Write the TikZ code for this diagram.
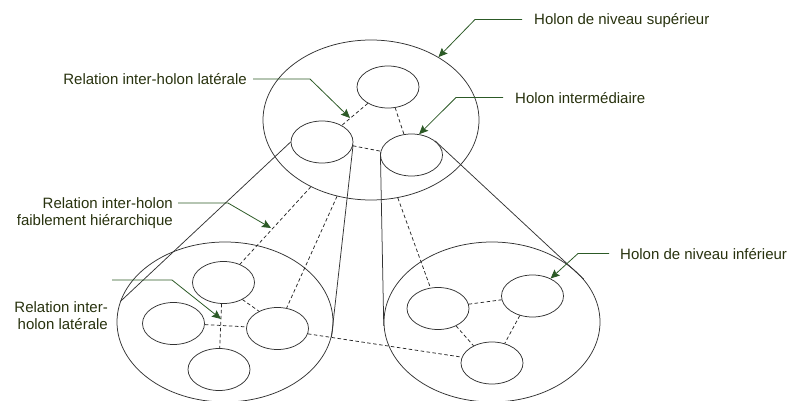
\documentclass[tikz,border=0pt]{standalone}
\usepackage{fontspec}
\setmainfont{Liberation Sans}
\usetikzlibrary{positioning,arrows.meta,shapes.geometric}
\definecolor{notegreen}{HTML}{2C5A26}
\definecolor{notetext}{HTML}{28320E}

\begin{document}
\begin{tikzpicture}[
  x=1pt, y=-1pt,
  font=\fontsize{15}{17.5}\selectfont,
  holon/.style={ellipse, draw=black!80, line width=0.75pt, inner sep=0pt},
  big/.style={holon, minimum width=216pt, minimum height=160pt},
  small/.style={holon, minimum width=62pt, minimum height=42pt},
  rel/.style={draw=black!85, line width=0.75pt, dash pattern=on 3.5pt off 2.5pt},
  cone/.style={draw=black!80, line width=0.75pt},
  note/.style={draw=notegreen, line width=0.8pt,
               -{Stealth[length=9pt, width=8pt, inset=1.5pt]}},
  lbl/.style={text=notetext, inner sep=0pt},
  lbl1/.style={lbl, text height=11pt, text depth=0pt}
]
\useasboundingbox (0,0) rectangle (789,401);

% upper level holon
\node[big] (up) at (371,120) {};
\node[small] (ut) at (388,87) {};
\node[small] (ul) at (322,142) {};
\node[small] (ur) at (411.5,155) {};
\draw[rel] (ut.219) -- (ul.40);
\draw[rel] (ut.289) -- (ur.110);
\draw[rel] (ul.353) -- (ur.173);

% left lower holon
\node[big] (lb) at (225,322) {};
\node[small] (lt) at (223.5,282.5) {};
\node[small] (ll) at (173.5,323.5) {};
\node[small] (lr) at (277.5,328.5) {};
\node[small] (lbt) at (219,369.5) {};
\draw[rel] (lt.265) -- (lbt.88);
\draw[rel] (ll.358) -- (lr.177);
\draw[rel] (lt.318) -- (lr.137);

% right lower holon
\node[big] (rb) at (492,322) {};
\node[small] (rl) at (438,308.5) {};
\node[small] (rr) at (532.5,296) {};
\node[small] (rbt) at (492,363) {};
\draw[rel] (rl.8) -- (rr.187);
\draw[rel] (rl.316) -- (rbt.137);
\draw[rel] (rr.237) -- (rbt.57);

% zoom cones
\draw[cone] (ul.180) -- (lb.169);
\draw[cone] (ul.355) -- (lb.352);
\draw[cone] (ur.175) -- (rb.182);
\draw[cone] (ur.31) -- (rb.25);

% links between levels
\draw[rel] (up.228) -- (lt.48);
\draw[rel] (up.246) -- (lr.66);
\draw[rel] (up.289) -- (rl.110);
\draw[rel] (lr.350) -- (rbt.169);

% labels
\node[lbl1, anchor=west] (hsup) at (534,19.5) {Holon de niveau supérieur};
\node[lbl1, anchor=west] (hint) at (515,97.5) {Holon intermédiaire};
\node[lbl1, anchor=west] (hinf) at (620,253.5) {Holon de niveau inférieur};
\node[lbl1, anchor=east] (latup) at (247,79) {Relation inter-holon latérale};
\node[lbl, anchor=north east, align=right] (hier) at (173,197)
  {Relation inter-holon\\faiblement hiérarchique};
\node[lbl, anchor=north east, align=right] (latlow) at (108,301)
  {Relation inter-\\holon latérale};

\coordinate (latupend) at (350,118);
\coordinate (hierend) at (271,228);
\coordinate (latlowend) at (221,319);

\draw[note] ([xshift=-12pt]hsup.west) -- ++(-47,0) -- (up.43);
\draw[note] ([xshift=-12pt]hint.west) -- ++(-47,0) -- (ur.70);
\draw[note] ([xshift=-11pt]hinf.west) -- ++(-31,0) -- (rr.44);
\draw[note] ([xshift=6pt]latup.east) -- ++(57,0) -- (latupend);
\draw[note] ([shift={(5,6)}]hier.north east) -- ++(50,0) -- (hierend);
\draw[note] ([shift={(4,-21)}]latlow.north east) -- ++(60,0) -- (latlowend);
\end{tikzpicture}
\end{document}
